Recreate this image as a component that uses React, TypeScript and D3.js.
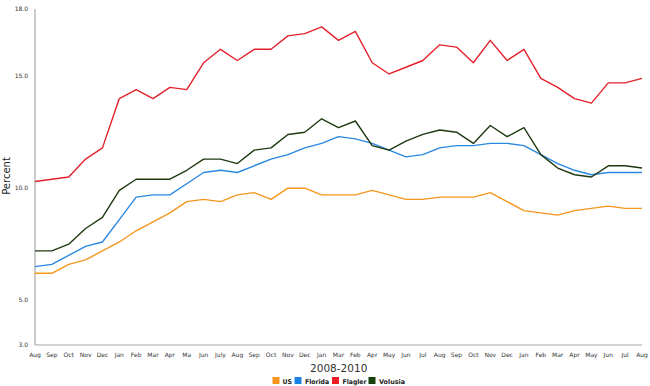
import React from "react";
import * as d3 from "d3";

const months = ["Aug","Sep","Oct","Nov","Dec","Jan","Feb","Mar","Apr","Ma","Jun","July","Aug","Sep","Oct","Nov","Dec","Jan","Mar","Feb","Apr","May","Jun","Jul","Aug","Sep","Oct","Nov","Dec","Jan","Feb","Mar","Apr","May","Jun","Jul","Aug"];

const us = [6.2,6.2,6.6,6.8,7.2,7.6,8.1,8.5,8.9,9.4,9.5,9.4,9.7,9.8,9.5,10.0,10.0,9.7,9.7,9.7,9.9,9.7,9.5,9.5,9.6,9.6,9.6,9.8,9.4,9.0,8.9,8.8,9.0,9.1,9.2,9.1,9.1];
const florida = [6.5,6.6,7.0,7.4,7.6,8.6,9.6,9.7,9.7,10.2,10.7,10.8,10.7,11.0,11.3,11.5,11.8,12.0,12.3,12.2,12.0,11.7,11.4,11.5,11.8,11.9,11.9,12.0,12.0,11.9,11.5,11.1,10.8,10.6,10.7,10.7,10.7];
const flagler = [10.3,10.4,10.5,11.3,11.8,14.0,14.4,14.0,14.5,14.4,15.6,16.2,15.7,16.2,16.2,16.8,16.9,17.2,16.6,17.0,15.6,15.1,15.4,15.7,16.4,16.3,15.6,16.6,15.7,16.2,14.9,14.5,14.0,13.8,14.7,14.7,14.9];
const volusia = [7.2,7.2,7.5,8.2,8.7,9.9,10.4,10.4,10.4,10.8,11.3,11.3,11.1,11.7,11.8,12.4,12.5,13.1,12.7,13.0,11.9,11.7,12.1,12.4,12.6,12.5,12.0,12.8,12.3,12.7,11.5,10.9,10.6,10.5,11.0,11.0,10.9];

const yTicks = [3, 5, 10, 15, 18];
const seriesNames = ["US", "Florida", "Flagler", "Volusia"];
const seriesData = [us, florida, flagler, volusia];
const lineColors = ["#f5961f", "#2a88e0", "#e3212b", "#1e3a12"];
const legendColors = ["#f7941e", "#1a82e2", "#ee1c25", "#14400c"];

export default function App() {
  const W = 650, H = 386;
  const x = d3.scaleLinear().domain([0, months.length - 1]).range([35, 642]);
  const y = d3.scaleLinear().domain([3, 18]).range([345, 9]);
  const line = d3.line<number>().x((_, i) => x(i)).y((d) => y(d));
  const font = "'DejaVu Sans', Verdana, sans-serif";

  const legendItems = [
    { sq: 272.5, tx: 282.5, w: 9.5 },
    { sq: 294.5, tx: 305, w: 24 },
    { sq: 332, tx: 342.5, w: 24 },
    { sq: 368.5, tx: 379, w: 26 },
  ];

  return (
    <svg width={W} height={H} style={{ position: "absolute", left: 0, top: 0, background: "#fff" }} fontFamily={font}>
      <line x1={35} x2={35} y1={y(18)} y2={y(3)} stroke="#a8a8a8" strokeWidth={1.2} />
      <line x1={35} x2={642} y1={y(3)} y2={y(3)} stroke="#a8a8a8" strokeWidth={1.2} />
      {yTicks.map((t) => (
        <text key={t} x={28} y={y(t)} dy="0.35em" textAnchor="end" fontSize={6} fill="#333">
          {t.toFixed(1)}
        </text>
      ))}
      {months.map((m, i) => (
        <text key={i} x={x(i)} y={357} textAnchor="middle" fontSize={6} fill="#333">
          {m}
        </text>
      ))}
      <text transform={`translate(10,176) rotate(-90)`} textAnchor="middle" fontSize={10} fill="#222">
        Percent
      </text>
      <text x={338.7} y={372} textAnchor="middle" fontSize={10.5} fill="#333">
        2008-2010
      </text>
      {seriesData.map((s, k) => (
        <path key={k} d={line(s) || ""} fill="none" stroke={lineColors[k]} strokeWidth={1.4} strokeLinejoin="round" />
      ))}
      {seriesNames.map((n, k) => (
        <g key={n}>
          <rect x={legendItems[k].sq} y={377} width={7} height={7} fill={legendColors[k]} />
          <text
            x={legendItems[k].tx}
            y={383.5}
            fontSize={6.6}
            fontWeight="bold"
            fill="#222"
            textLength={legendItems[k].w}
            lengthAdjust="spacingAndGlyphs"
          >
            {n}
          </text>
        </g>
      ))}
    </svg>
  );
}
